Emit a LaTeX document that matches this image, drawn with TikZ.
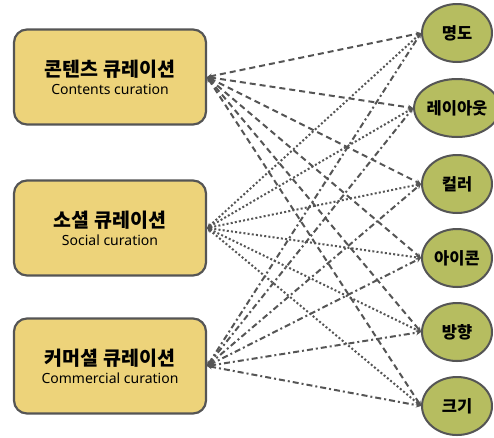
\documentclass[tikz,border=0pt]{standalone}
\usepackage{fontspec}
\setmainfont{Noto Sans CJK KR}
\newfontfamily\latinfont{Noto Sans}
\usetikzlibrary{shapes.geometric,arrows.meta}
\definecolor{boxfill}{RGB}{237,211,122}
\definecolor{ovalfill}{RGB}{182,189,96}
\definecolor{edgegray}{RGB}{85,85,85}
\tikzset{
  curbox/.style={draw=edgegray, line width=2.2pt, fill=boxfill, rounded corners=13pt,
    minimum width=192pt, minimum height=95pt, align=center, inner sep=0pt,
    font=\fontsize{14}{18}\selectfont},
  featoval/.style={ellipse, draw=edgegray, line width=2pt, fill=ovalfill,
    minimum width=70pt, minimum height=58pt, inner sep=0pt, font=\bfseries\fontsize{16.5}{18}\selectfont},
  link/.style={draw=edgegray, line width=2pt,
    {Stealth[length=5pt,width=5pt]}-{Stealth[length=5pt,width=5pt]}},
  contentlink/.style={link, dash pattern=on 6pt off 4pt},
  sociallink/.style={link, dash pattern=on 2pt off 2.2pt},
  commerciallink/.style={link, dash pattern=on 6pt off 3pt on 2pt off 3pt},
}
\newcommand{\curtitle}[2]{{\bfseries\fontsize{19.5}{18}\selectfont #1}\\{\latinfont #2}}
\begin{document}
\begin{tikzpicture}[x=1pt,y=-1pt]
  \useasboundingbox (0,0) rectangle (494,437);
  % curation types
  \node[curbox] (contents) at (110,77) {\curtitle{콘텐츠 큐레이션}{Contents curation}};
  \node[curbox] (social) at (110,228) {\curtitle{소셜 큐레이션}{Social curation}};
  \node[curbox] (commercial) at (110,366) {\curtitle{커머셜 큐레이션}{Commercial curation}};
  % design features
  \node[featoval] (f1) at (457,33) {명도};
  \node[featoval] (f2) at (457,108) {레이아웃};
  \node[featoval] (f3) at (457,184) {컬러};
  \node[featoval] (f4) at (457,258) {아이콘};
  \node[featoval] (f5) at (457,332) {방향};
  \node[featoval] (f6) at (457,406) {크기};
  % every curation type relates to every feature
  \foreach \f in {f1,f2,f3,f4,f5,f6} {
    \draw[contentlink] (contents.east) -- (\f.west);
    \draw[sociallink] (social.east) -- (\f.west);
    \draw[commerciallink] (commercial.east) -- (\f.west);
  }
\end{tikzpicture}
\end{document}
